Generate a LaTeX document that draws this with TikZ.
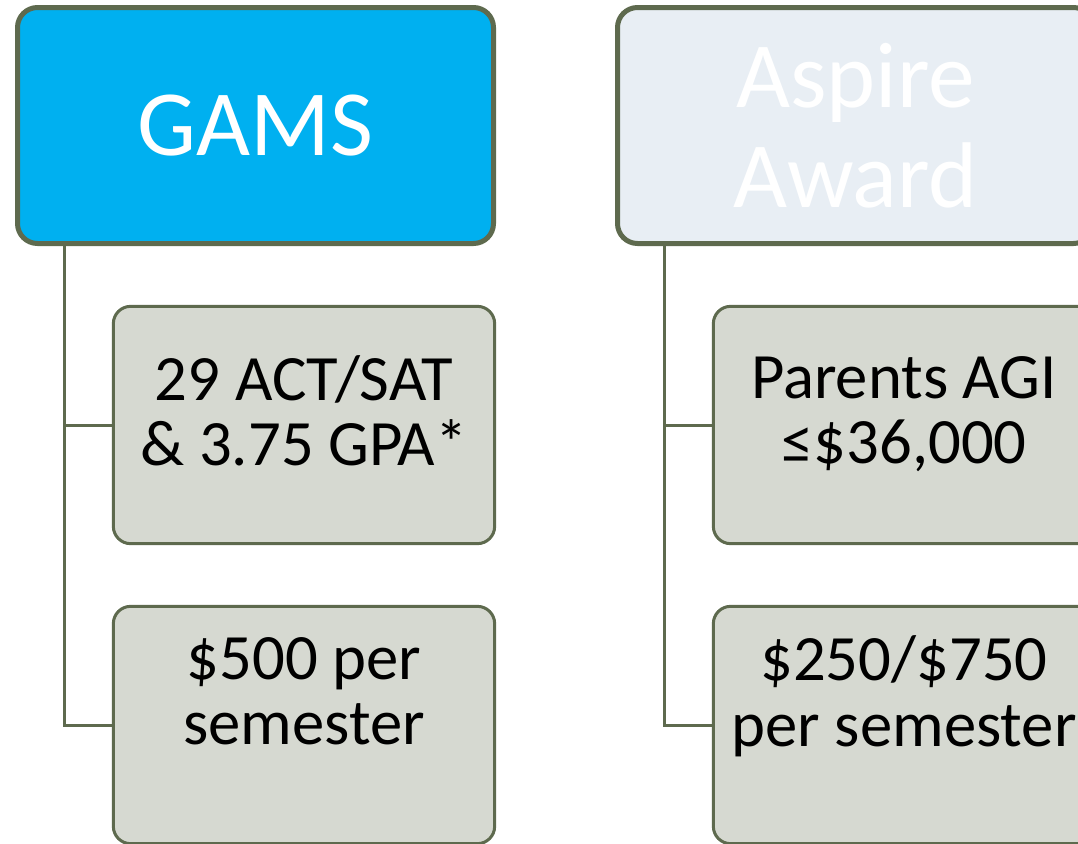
\documentclass[tikz,border=0pt]{standalone}
\usepackage{fontspec}
\setmainfont{Carlito}
\usetikzlibrary{positioning}

\definecolor{edgegreen}{HTML}{5E6A4E}
\definecolor{gamsblue}{HTML}{00B0F0}
\definecolor{aspirepale}{HTML}{E8EEF4}
\definecolor{critgray}{HTML}{D6D9D1}

\tikzset{
    headbox/.style={draw=edgegreen, line width=3.75pt, rounded corners=15pt,
        minimum width=357pt, minimum height=177pt, text=white, align=center,
        font={\fontsize{70}{75}\selectfont}},
    childbox/.style={draw=edgegreen, line width=2.25pt, rounded corners=13pt,
        fill=critgray, minimum width=286pt, minimum height=178pt, align=center,
        font={\fontsize{48.5}{49}\selectfont}},
    topbox/.style={childbox, text depth=22pt},
    lowbox/.style={childbox, text depth=51pt},
    branch/.style={draw=edgegreen, line width=2.25pt}
}

\begin{document}
\begin{tikzpicture}[x=0.75pt,y=-0.75pt]

    \useasboundingbox (0,0) rectangle (1078,843);
    \clip (0,0) rectangle (1078,843);

    % top boxes
    \node[headbox, fill=gamsblue] (gams) at (255.5,125.5) {GAMS};
    \node[headbox, fill=aspirepale] (aspire) at (855.5,125.5) {Aspire\\Award};

    % criteria and amounts
    \node[topbox] (gcrit) at (304,425) {29 ACT/SAT\\\& 3.75 GPA*};
    \node[lowbox] (gpay) at (304,725) {\$500 per\\semester};
    \node[topbox] (acrit) at (904,425) {Parents AGI\\≤\$36,000};
    \node[lowbox] (apay) at (904,725) {\$250/\$750\\per semester};

    % branches
    \draw[branch] ([xshift=36.75pt]gams.south west) |- (gcrit.west);
    \draw[branch] ([xshift=36.75pt]gams.south west) |- (gpay.west);
    \draw[branch] ([xshift=36.75pt]aspire.south west) |- (acrit.west);
    \draw[branch] ([xshift=36.75pt]aspire.south west) |- (apay.west);

\end{tikzpicture}
\end{document}
